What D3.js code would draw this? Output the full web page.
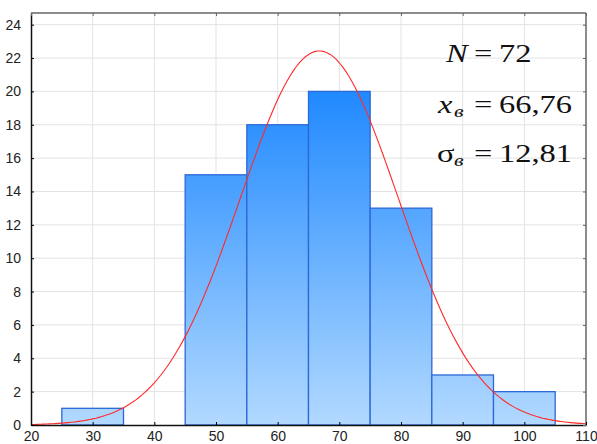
<!DOCTYPE html>
<html>
<head>
<meta charset="utf-8">
<script src="https://cdn.jsdelivr.net/npm/d3@7"></script>
<style>
  body { margin: 0; background: #fff; }
</style>
</head>
<body>
<script>
// histogram bins (lower edge, upper edge) and counts
var binStart = [25, 35, 45, 55, 65, 75, 85, 95];
var binEnd   = [35, 45, 55, 65, 75, 85, 95, 105];
var counts   = [1, 0, 15, 18, 20, 13, 3, 2];

var xTicks = [20, 30, 40, 50, 60, 70, 80, 90, 100, 110];
var yTicks = [0, 2, 4, 6, 8, 10, 12, 14, 16, 18, 20, 22, 24];

var N = 72, mean = 66.76, sigma = 12.81, binWidth = 10;

var W = 597, H = 444;
var margin = {top: 13, right: 11, bottom: 19, left: 31};
var width = W - margin.left - margin.right,
    height = H - margin.top - margin.bottom;

var svg = d3.select("body").append("svg")
  .attr("width", W).attr("height", H);

var g = svg.append("g")
  .attr("transform", "translate(" + margin.left + "," + margin.top + ")");

var x = d3.scaleLinear().domain([20, 110]).range([0, width]);
var y = d3.scaleLinear().domain([0, 24.7]).range([height, 0]);

// vertical gradient shared by all bars (depends on absolute height)
var grad = svg.append("defs").append("linearGradient")
  .attr("id", "barGrad")
  .attr("gradientUnits", "userSpaceOnUse")
  .attr("x1", 0).attr("x2", 0)
  .attr("y1", y(20)).attr("y2", y(0));
grad.append("stop").attr("offset", 0).attr("stop-color", "#2089ff");
grad.append("stop").attr("offset", 1).attr("stop-color", "#b2d9ff");

// grid lines
g.append("g").selectAll("line").data(xTicks.slice(1, -1)).enter().append("line")
  .attr("x1", d => x(d)).attr("x2", d => x(d))
  .attr("y1", 0).attr("y2", height)
  .attr("stroke", "#e3e3e3");
g.append("g").selectAll("line").data(yTicks.slice(1)).enter().append("line")
  .attr("x1", 0).attr("x2", width)
  .attr("y1", d => y(d)).attr("y2", d => y(d))
  .attr("stroke", "#e3e3e3");

// bars
var bins = counts.map(function(c, i) { return {x0: binStart[i], x1: binEnd[i], n: c}; })
  .filter(d => d.n > 0);
g.selectAll("rect.bar").data(bins).enter().append("rect")
  .attr("class", "bar")
  .attr("x", d => x(d.x0))
  .attr("y", d => y(d.n))
  .attr("width", d => x(d.x1) - x(d.x0))
  .attr("height", d => y(0) - y(d.n))
  .attr("fill", "url(#barGrad)")
  .attr("stroke", "#2c68d6")
  .attr("stroke-width", 1.3);

// normal curve scaled to counts
var curve = d3.range(20, 110.01, 0.5).map(function(v) {
  var z = (v - mean) / sigma;
  return [v, N * binWidth * Math.exp(-0.5 * z * z) / (sigma * Math.sqrt(2 * Math.PI))];
});
g.append("path")
  .datum(curve)
  .attr("fill", "none")
  .attr("stroke", "#ff2a2a")
  .attr("stroke-width", 1.1)
  .attr("d", d3.line().x(d => x(d[0])).y(d => y(d[1])));

// frame: top and right in gray
g.append("line").attr("x1", 0).attr("x2", width).attr("y1", 0).attr("y2", 0)
  .attr("stroke", "#666").attr("stroke-width", 1.5);
g.append("line").attr("x1", width).attr("x2", width).attr("y1", 0).attr("y2", height)
  .attr("stroke", "#666").attr("stroke-width", 1.5);

// axes with inward ticks
var xAxis = g.append("g").attr("transform", "translate(0," + height + ")")
  .call(d3.axisBottom(x).tickValues(xTicks).tickSizeInner(-3).tickSizeOuter(0).tickPadding(6));
var yAxis = g.append("g")
  .call(d3.axisLeft(y).tickValues(yTicks).tickSizeInner(-3).tickSizeOuter(0).tickPadding(10));
g.append("g")
  .call(d3.axisTop(x).tickValues(xTicks).tickSizeInner(-3).tickSizeOuter(0))
  .call(a => a.selectAll("text").remove()).call(a => a.select(".domain").remove())
  .selectAll("line").attr("stroke", "#666");
g.append("g").attr("transform", "translate(" + width + ",0)")
  .call(d3.axisRight(y).tickValues(yTicks).tickSizeInner(-3).tickSizeOuter(0))
  .call(a => a.selectAll("text").remove()).call(a => a.select(".domain").remove())
  .selectAll("line").attr("stroke", "#666");
[xAxis, yAxis].forEach(function(a) {
  a.selectAll("text")
    .style("font-family", "'Liberation Sans', Arial, sans-serif")
    .style("font-size", "14px")
    .attr("fill", "#222");
  a.select(".domain").attr("stroke", "#111").attr("stroke-width", 1.5);
});

// statistics text (Times-like, stretched horizontally)
var serif = "'Liberation Serif', 'Times New Roman', serif";
function piece(px, py, txt, size, italic) {
  svg.append("text")
    .attr("transform", "translate(" + px + "," + py + ") scale(1.3,1)")
    .attr("font-family", serif)
    .attr("font-size", size)
    .attr("font-style", italic ? "italic" : "normal")
    .attr("fill", "#111")
    .text(txt);
}
// line 1
piece(446, 62, "N", 25, true);
piece(474, 62, "=", 25, false);
piece(499, 62, "72", 25, false);
// line 2
piece(438, 113, "x", 25, true);
piece(454, 117, "в", 17, true);
piece(474, 113, "=", 25, false);
piece(499, 113, "66,76", 25, false);
// line 3
piece(437, 162, "σ", 25, false);
piece(454, 166, "в", 17, true);
piece(474, 162, "=", 25, false);
piece(499, 162, "12,81", 25, false);
</script>
</body>
</html>
